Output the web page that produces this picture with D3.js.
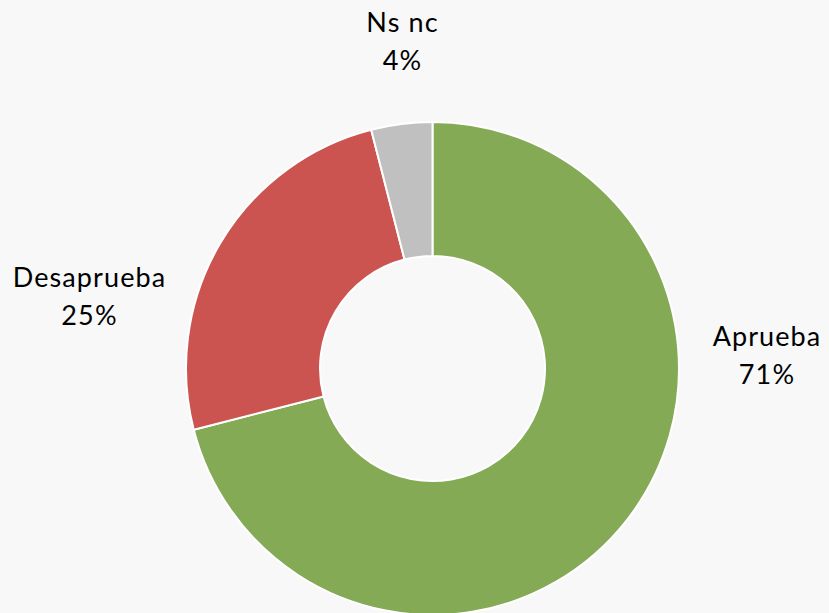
<!DOCTYPE html>
<html>
<head>
<meta charset="utf-8">
<script src="https://cdn.jsdelivr.net/npm/d3@7"></script>
<style>
  html, body { margin: 0; padding: 0; background: #f8f8f8; }
  text { font-family: Lato, "Open Sans", sans-serif; font-size: 27px; fill: #000; letter-spacing: 1.1px; }
</style>
</head>
<body>
<svg id="chart" width="829" height="613"></svg>
<script>
// share of answers, clockwise from 12 o'clock
var categories = ["Aprueba", "Desaprueba", "Ns nc"];
var values = [71, 25, 4];
var colors = ["#84aa55", "#cb5450", "#c0c0c0"];

var cx = 432.5, cy = 368.5;
var outerR = 246.5, innerR = 112.5;

var svg = d3.select("#chart");

var pie = d3.pie().sort(null).value(function (d) { return d; });
var arc = d3.arc().innerRadius(innerR).outerRadius(outerR);

var arcs = pie(values);

var g = svg.append("g")
  .attr("transform", `translate(${cx},${cy})`);

g.selectAll("path")
  .data(arcs)
  .enter()
  .append("path")
  .attr("d", arc)
  .attr("fill", function (d, i) { return colors[i]; })
  .attr("stroke", "#ffffff")
  .attr("stroke-width", 2);

// labels placed by hand like the original, name on top and percent below
var labelPos = [[767, 346], [89.5, 287], [402.5, 32]];

svg.append("g")
  .attr("class", "labels")
  .selectAll("text")
  .data(arcs)
  .enter()
  .append("text")
  .attr("text-anchor", "middle")
  .attr("x", function (d, i) { return labelPos[i][0]; })
  .attr("y", function (d, i) { return labelPos[i][1]; })
  .each(function (d, i) {
    var t = d3.select(this);
    t.append("tspan").text(categories[i]);
    t.append("tspan")
      .attr("x", labelPos[i][0])
      .attr("dy", 38)
      .text(values[i] + "%");
  });
</script>
</body>
</html>
